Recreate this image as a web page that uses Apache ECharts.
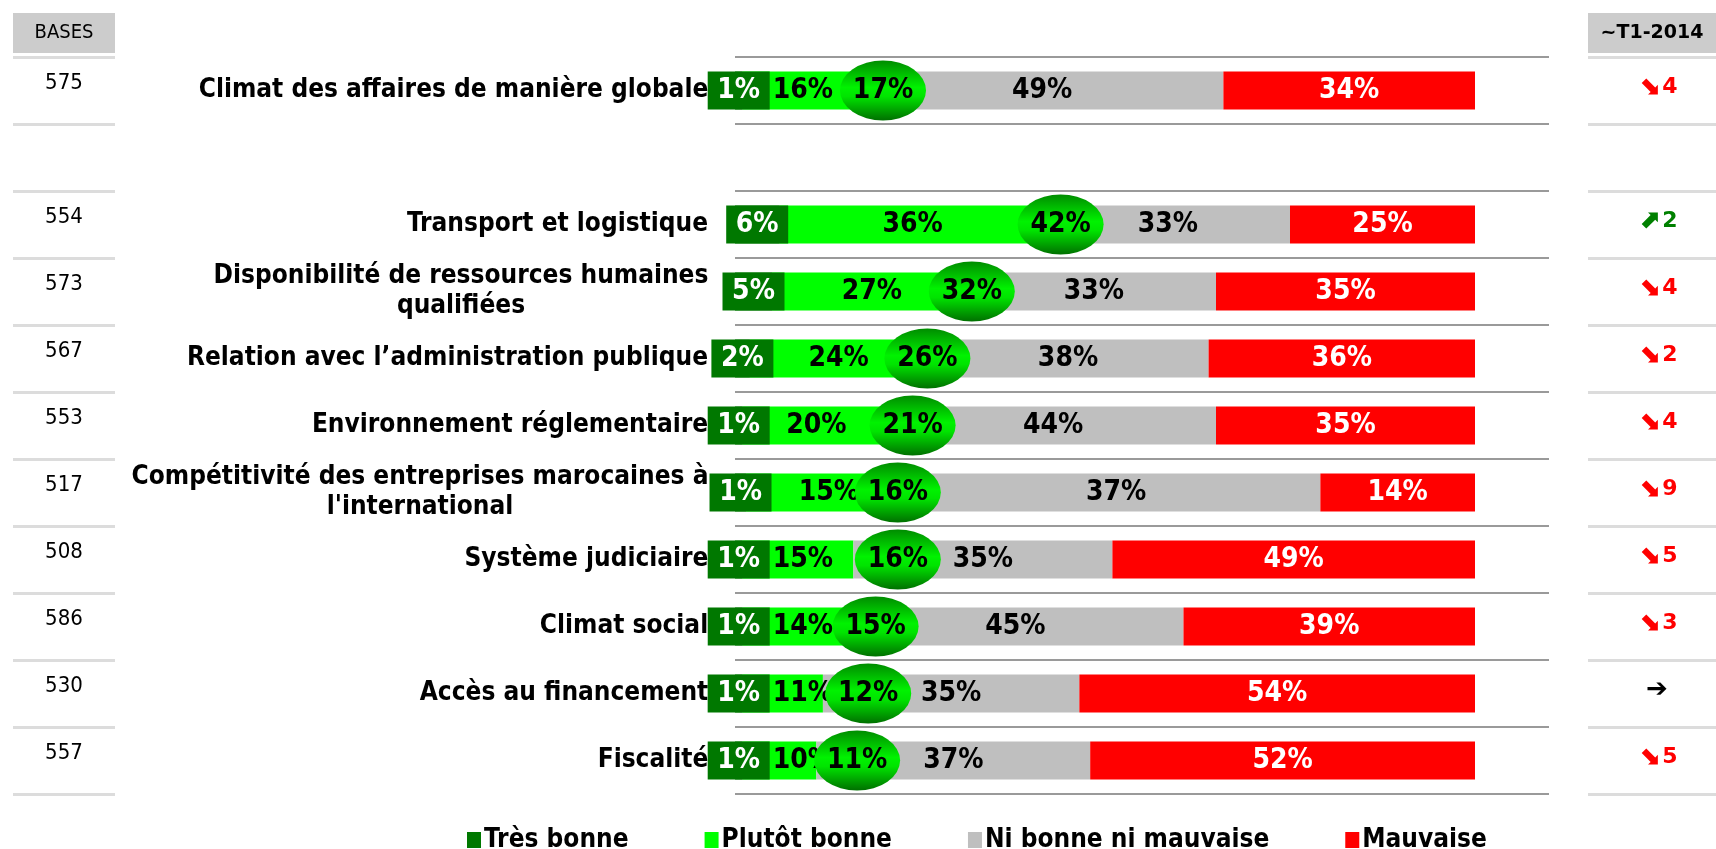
<!DOCTYPE html>
<html>
<head>
<meta charset="utf-8">
<script src="https://cdn.jsdelivr.net/npm/echarts@6/dist/echarts.min.js"></script>
<style>
html,body{margin:0;padding:0;background:#fff;}
#main{width:1716px;height:849px;}
</style>
</head>
<body>
<div id="main"></div>
<script>
// données (en %)
var categories = [
    'Climat des affaires de manière globale',
    '',
    'Transport et logistique',
    'Disponibilité de ressources humaines\nqualifiées',
    'Relation avec l’administration publique',
    'Environnement réglementaire',
    'Compétitivité des entreprises marocaines à\nl\'international',
    'Système judiciaire',
    'Climat social',
    'Accès au financement',
    'Fiscalité'
];
var tresBonne   = [1, null, 6, 5, 2, 1, 1, 1, 1, 1, 1];
var plutotBonne = [16, null, 36, 27, 24, 20, 15, 15, 14, 11, 10];
var niBonne     = [49, null, 33, 33, 38, 44, 37, 35, 45, 35, 37];
var mauvaise    = [34, null, 25, 35, 36, 35, 14, 49, 39, 54, 52];
var totalBonne  = [17, null, 42, 32, 26, 21, 16, 16, 15, 12, 11];
// position de la bulle "total bonne" sur l'axe 0-100
var bubblePos   = [20, null, 44, 32, 26, 24, 22, 22, 19, 18, 16.5];
var bases       = [575, null, 554, 573, 567, 553, 517, 508, 586, 530, 557];
var trendDir    = ['down', null, 'up', 'down', 'down', 'down', 'down', 'down', 'down', 'flat', 'down'];
var trendVal    = [4, null, 2, 4, 2, 4, 9, 5, 3, null, 5];
var legendNames = ['Très bonne', 'Plutôt bonne', 'Ni bonne ni mauvaise', 'Mauvaise'];

var COND = '"DejaVu Sans Condensed", "DejaVu Sans", sans-serif';
var WIDE = '"DejaVu Sans", sans-serif';
var BAR_PX = 740;   // largeur de 100% en pixels
var BOX_W = 62;     // boite "très bonne"

// barres normalisées à 100%
var rowSum = tresBonne.map(function (v, i) {
    return v == null ? null : v + plutotBonne[i] + niBonne[i] + mauvaise[i];
});
function norm(arr) {
    return arr.map(function (v, i) { return v == null ? null : v / rowSum[i] * 100; });
}
function pct(raw) {
    return function (p) { return raw[p.dataIndex] + '%'; };
}

var ctx = document.createElement('canvas').getContext('2d');

// libellé "plutôt bonne" décalé quand il passe sous la boite verte foncée
ctx.font = 'bold 28px ' + COND;
var pbNorm = norm(plutotBonne), tbNorm = norm(tresBonne);
var pbData = pbNorm.map(function (v, i) {
    if (v == null) return null;
    var start = tbNorm[i] / 100 * BAR_PX;
    var w = v / 100 * BAR_PX;
    var tw = ctx.measureText(plutotBonne[i] + '%').width;
    var boxRight = start / 2 + BOX_W / 2;
    if (start + (w - tw) / 2 < boxRight + 2) {
        return { value: v, label: { position: 'insideLeft', distance: boxRight + 3 - start } };
    }
    return v;
});

// largeur des libellés pour centrer les lignes
ctx.font = 'bold 26px ' + COND;
var richMain = {};
categories.forEach(function (c, i) {
    var w = 0;
    c.split('\n').forEach(function (l) { w = Math.max(w, ctx.measureText(l).width); });
    richMain['r' + i] = {
        width: Math.ceil(w) + 1, align: 'center', fontSize: 26, fontWeight: 'bold',
        fontFamily: COND, color: '#000', lineHeight: 30
    };
});

var labelBase = {
    show: true, position: 'inside', fontSize: 28, fontWeight: 'bold', fontFamily: COND
};
var arrowStyle = { fontSize: 26, fontWeight: 'bold', fontFamily: WIDE, padding: [0, 2, 6, 0] };
var numStyle = { fontSize: 22, fontWeight: 'bold', fontFamily: WIDE, padding: [0, 0, 6, 0] };

var myChart = echarts.init(document.getElementById('main'));
var option = {
    backgroundColor: '#fff',
    animation: false,
    title: [
        {
            left: 13, top: 13, padding: 0,
            text: '{h|BASES}',
            textStyle: { rich: { h: { width: 102, height: 40, lineHeight: 40, align: 'center',
                backgroundColor: '#cccccc', fontSize: 20, fontWeight: 'normal', fontFamily: COND, color: '#000' } } }
        },
        {
            left: 1588, top: 13, padding: 0,
            text: '{h|~T1-2014}',
            textStyle: { rich: { h: { width: 128, height: 40, lineHeight: 40, align: 'center',
                backgroundColor: '#cccccc', fontSize: 19, fontWeight: 'bold', fontFamily: WIDE, color: '#000' } } }
        }
    ],
    legend: {
        data: legendNames,
        left: 462, top: 822,
        icon: 'rect', itemWidth: 14, itemHeight: 16, itemGap: 76,
        textStyle: { fontSize: 26, fontWeight: 'bold', fontFamily: COND, color: '#000', padding: [0, 0, 0, -2] }
    },
    grid: [
        { left: 735, right: 167, top: 57, height: 737 },
        { left: 13, width: 102, top: 57, height: 737 },
        { left: 1588, width: 128, top: 57, height: 737 }
    ],
    xAxis: [
        { gridIndex: 0, type: 'value', min: 0, max: 110, show: false },
        { gridIndex: 1, type: 'value', min: 0, max: 1, show: false },
        { gridIndex: 2, type: 'value', min: 0, max: 1, show: false }
    ],
    yAxis: [
        {
            gridIndex: 0, type: 'category', inverse: true, data: categories,
            axisLine: { show: false }, axisTick: { show: false },
            axisLabel: {
                margin: 26,
                formatter: function (v, i) {
                    if (!v) return '';
                    return v.split('\n').map(function (l) { return '{r' + i + '|' + l + '}'; }).join('\n');
                },
                rich: richMain
            },
            splitLine: { show: true, lineStyle: { color: '#9a9a9a', width: 2 } }
        },
        {
            gridIndex: 1, type: 'category', inverse: true, data: categories,
            axisLine: { show: false }, axisTick: { show: false },
            axisLabel: {
                margin: -51, align: 'center',
                formatter: function (v, i) { return bases[i] == null ? '' : '{b|' + bases[i] + '}'; },
                rich: { b: { fontSize: 22, fontFamily: COND, color: '#000', padding: [0, 0, 14, 0] } }
            },
            splitLine: { show: true, lineStyle: { color: '#dcdcdc', width: 3 } }
        },
        {
            gridIndex: 2, type: 'category', inverse: true, data: categories,
            axisLine: { show: false }, axisTick: { show: false },
            axisLabel: {
                margin: -70, align: 'center',
                formatter: function (v, i) {
                    var d = trendDir[i];
                    if (!d) return '';
                    if (d === 'up') return '{ua|⬈}{un|' + trendVal[i] + '}';
                    if (d === 'flat') return '{fa|➔}';
                    return '{da|⬊}{dn|' + trendVal[i] + '}';
                },
                rich: {
                    da: Object.assign({ color: '#ff0000' }, arrowStyle),
                    dn: Object.assign({ color: '#ff0000' }, numStyle),
                    ua: Object.assign({ color: '#008000' }, arrowStyle),
                    un: Object.assign({ color: '#008000' }, numStyle),
                    fa: Object.assign({ color: '#000000' }, arrowStyle)
                }
            },
            splitLine: { show: true, lineStyle: { color: '#dcdcdc', width: 3 } }
        }
    ],
    series: [
        {
            name: 'Très bonne', type: 'bar', stack: 'tot', barWidth: 38, z: 3,
            itemStyle: { color: '#007800' },
            data: tbNorm,
            label: Object.assign({}, labelBase, {
                color: '#fff', formatter: pct(tresBonne),
                backgroundColor: '#007800', width: BOX_W, height: 38, lineHeight: 38,
                align: 'center', verticalAlign: 'middle', overflow: 'none'
            })
        },
        {
            name: 'Plutôt bonne', type: 'bar', stack: 'tot', barWidth: 38,
            itemStyle: { color: '#00ff00' },
            data: pbData,
            label: Object.assign({}, labelBase, { color: '#000', formatter: pct(plutotBonne) })
        },
        {
            name: 'Ni bonne ni mauvaise', type: 'bar', stack: 'tot', barWidth: 38,
            itemStyle: { color: '#bfbfbf' },
            data: norm(niBonne),
            label: Object.assign({}, labelBase, { color: '#000', formatter: pct(niBonne) })
        },
        {
            name: 'Mauvaise', type: 'bar', stack: 'tot', barWidth: 38,
            itemStyle: { color: '#ff0000' },
            data: norm(mauvaise),
            label: Object.assign({}, labelBase, { color: '#fff', formatter: pct(mauvaise) })
        },
        {
            name: 'Total bonne', type: 'scatter', z: 5,
            symbol: 'circle', symbolSize: [86, 60],
            itemStyle: {
                opacity: 1,
                color: new echarts.graphic.LinearGradient(0, 0, 0, 1, [
                    { offset: 0, color: '#008c00' },
                    { offset: 0.45, color: '#00f200' },
                    { offset: 0.6, color: '#00e400' },
                    { offset: 1, color: '#007000' }
                ])
            },
            data: bubblePos.map(function (v, i) { return v == null ? null : [v, i]; }),
            label: Object.assign({}, labelBase, {
                color: '#000',
                formatter: function (p) { return totalBonne[p.dataIndex] + '%'; }
            })
        }
    ]
};
myChart.setOption(option);
</script>
</body>
</html>
